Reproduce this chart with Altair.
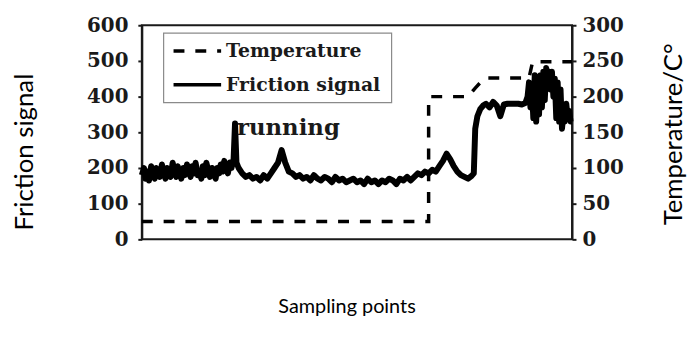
import altair as alt
import pandas as pd

# ---- data ----
fr_s = [0, 3, 5, 8, 10, 13, 15, 18, 20, 23, 25, 28, 30, 33, 35, 38, 40, 43, 45, 48,
        50, 53, 55, 58, 60, 63, 65, 68, 70, 73, 75, 78, 80, 83, 85, 88, 90, 93, 95, 98,
        100, 103, 105, 108, 110, 113, 115, 118, 120, 123, 125, 128, 130, 132, 135, 140,
        145, 150, 155, 160, 165, 170, 175, 180, 185, 190, 195, 200, 205, 210, 215, 220,
        225, 230, 235, 240, 245, 250, 255, 260, 265, 270, 275, 280, 285, 290, 295, 300,
        305, 310, 315, 320, 325, 330, 335, 340, 345, 350, 355, 360, 365, 370, 375, 380,
        385, 390, 395, 400, 405, 410, 415, 420, 425, 430, 435, 440, 445, 450, 455, 460,
        463, 465, 468, 472, 476, 480, 485, 490, 495, 500, 505, 510, 515, 520, 525, 530,
        535, 538, 540, 542, 544, 546, 548, 550, 552, 554, 556, 558, 560, 562, 564, 566,
        568, 570, 572, 574, 576, 578, 580, 582, 584, 586, 588, 590, 592, 594, 596, 598,
        600]
fr_v = [180, 200, 170, 190, 165, 205, 185, 170, 200, 180, 175, 210, 190, 170, 200, 185,
        175, 215, 195, 175, 205, 185, 170, 200, 180, 210, 195, 175, 205, 185, 215, 180,
        190, 170, 205, 180, 215, 190, 175, 200, 185, 170, 200, 185, 210, 190, 220, 195,
        185, 215, 200, 225, 325, 215, 200, 185, 175, 180, 170, 175, 165, 180, 170, 185,
        200, 215, 250, 215, 190, 185, 175, 180, 170, 175, 165, 180, 170, 165, 175, 170,
        160, 175, 165, 170, 160, 165, 170, 160, 165, 155, 170, 160, 165, 155, 165, 160,
        170, 165, 155, 170, 165, 175, 165, 175, 185, 180, 190, 185, 195, 190, 205, 220,
        240, 225, 205, 190, 180, 175, 170, 178, 185, 310, 345, 365, 375, 380, 370, 385,
        375, 345, 378, 380, 380, 380, 380, 378, 382, 400, 440, 370, 430, 340, 460, 330,
        420, 350, 460, 370, 470, 390, 480, 450, 470, 420, 470, 400, 450, 340, 440, 330,
        420, 310, 350, 330, 380, 340, 360, 330, 330]

temp_s = [0, 400, 400, 455, 465, 478, 540, 545, 600]
temp_v = [25, 25, 200, 200, 212, 226, 226, 249, 249]

x_ticks = [0, 100, 200, 300, 400, 500, 600]
left_ticks = [0, 100, 200, 300, 400, 500, 600]
right_ticks = [0, 50, 100, 150, 200, 250, 300]

fric = pd.DataFrame({"s": fr_s, "v": fr_v})
temp = pd.DataFrame({"s": temp_s, "t": temp_v})

W, H = 434, 216
SERIF = "DejaVu Serif"
SANS = "Lato"
INK = "#1a1a1a"

xs = alt.Scale(domain=[0, 600], nice=False)
x_axis = alt.Axis(values=x_ticks, grid=False, labelFont=SERIF, labelFontWeight="bold",
                  labelFontSize=20, labelColor=INK, tickColor=INK, domainColor=INK,
                  domainWidth=2, tickWidth=2, tickSize=4, labelPadding=8, title=None)

fric_line = alt.Chart(fric).mark_line(color="black", strokeWidth=6, strokeJoin="round").encode(
    x=alt.X("s:Q", scale=xs, axis=x_axis),
    y=alt.Y("v:Q", scale=alt.Scale(domain=[0, 600], nice=False),
            axis=alt.Axis(values=left_ticks, grid=False, orient="left", labelFont=SERIF,
                          labelFontWeight="bold", labelFontSize=20, labelColor=INK,
                          tickColor=INK, domainColor=INK, domainWidth=2, tickWidth=2,
                          tickSize=4, labelPadding=10, title=None)),
)

temp_line = alt.Chart(temp).mark_line(color="black", strokeWidth=3.5, strokeDash=[11, 11]).encode(
    x=alt.X("s:Q", scale=xs, axis=None),
    y=alt.Y("t:Q", scale=alt.Scale(domain=[0, 300], nice=False),
            axis=alt.Axis(values=right_ticks, grid=False, orient="right", labelFont=SERIF,
                          labelFontWeight="bold", labelFontSize=20, labelColor=INK,
                          tickColor=INK, domainColor=INK, domainWidth=2, tickWidth=2,
                          tickSize=4, labelPadding=6, title=None)),
)

# manual legend / annotations (pixel positions relative to plot area origin)
one = pd.DataFrame({"a": [0]})
box = alt.Chart(one).mark_rect(fill="white", stroke="#8a8a8a", strokeWidth=1.2).encode(
    x=alt.value(22), x2=alt.value(252), y=alt.value(8), y2=alt.value(78))
sym_dash = alt.Chart(one).mark_rule(color="black", strokeWidth=3.5, strokeDash=[11, 11]).encode(
    x=alt.value(32), x2=alt.value(80), y=alt.value(26), y2=alt.value(26))
sym_solid = alt.Chart(one).mark_rule(color="black", strokeWidth=3.5).encode(
    x=alt.value(32), x2=alt.value(80), y=alt.value(60), y2=alt.value(60))
leg_t1 = alt.Chart(one).mark_text(text="Temperature", font=SERIF, fontWeight="bold", fontSize=19,
                                  align="left", baseline="middle", color=INK).encode(
    x=alt.value(85), y=alt.value(26))
leg_t2 = alt.Chart(one).mark_text(text="Friction signal", font=SERIF, fontWeight="bold", fontSize=19,
                                  align="left", baseline="middle", color=INK).encode(
    x=alt.value(85), y=alt.value(60))
running = alt.Chart(one).mark_text(text="running", font=SERIF, fontWeight="bold", fontSize=23,
                                   align="left", baseline="middle", color=INK).encode(
    x=alt.value(96), y=alt.value(104))

t_left = alt.Chart(one).mark_text(text="Friction signal", font=SANS, fontSize=26, angle=270,
                                  align="center", baseline="middle", color="black").encode(
    x=alt.value(-118), y=alt.value(128))
t_right = alt.Chart(one).mark_text(text="Temperature/C°", font=SANS, fontSize=26, angle=270,
                                   align="center", baseline="middle", color="black").encode(
    x=alt.value(537), y=alt.value(110))
t_bottom = alt.Chart(one).mark_text(text="Sampling points", font=SANS, fontSize=20,
                                    align="center", baseline="middle", color="black").encode(
    x=alt.value(207), y=alt.value(284))

chart = alt.layer(
    fric_line, temp_line, box, sym_dash, sym_solid, leg_t1, leg_t2, running,
    t_left, t_right, t_bottom
).resolve_scale(y="independent").properties(
    width=W, height=H,
    autosize=alt.AutoSizeParams(type="none"),
    padding={"left": 135, "top": 16, "right": 117, "bottom": 86},
    background="white",
).configure_view(stroke=INK, strokeWidth=2)

chart.save("out.html", embed_options={"renderer": "svg", "actions": False})
